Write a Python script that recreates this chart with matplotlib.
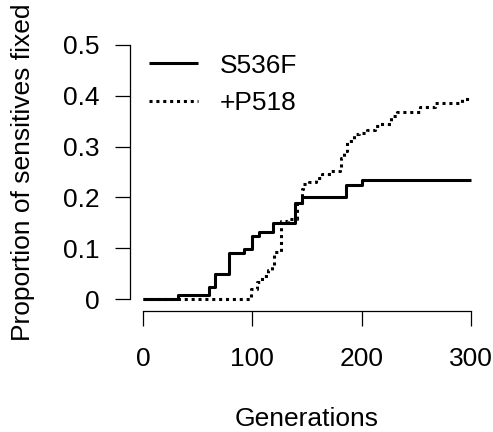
import matplotlib
matplotlib.use("Agg")
import matplotlib.pyplot as plt

# step curves: generation at which each step occurs, proportion after the step
s536f_gen = [0, 32, 60, 66, 79, 92, 100, 106, 119, 139, 145, 186, 200, 300]
s536f_prop = [0, 0.008, 0.024, 0.049, 0.090, 0.099, 0.125, 0.133, 0.149,
              0.190, 0.201, 0.225, 0.234, 0.234]

p518_gen = [0, 99, 104, 109, 114, 118, 120, 126, 126.5, 133, 141, 145, 146,
            152, 158, 164, 172, 180, 181, 184, 187, 193, 198, 205, 212, 216,
            227, 232, 253, 267, 292, 300]
p518_prop = [0, 0.020, 0.033, 0.045, 0.057, 0.066, 0.092, 0.105, 0.154, 0.158,
             0.190, 0.216, 0.226, 0.231, 0.239, 0.246, 0.252, 0.260, 0.278,
             0.291, 0.311, 0.324, 0.327, 0.333, 0.340, 0.344, 0.359, 0.368,
             0.377, 0.386, 0.394, 0.394]

x_ticks = [0, 100, 200, 300]
y_ticks = [0, 0.1, 0.2, 0.3, 0.4, 0.5]
y_tick_labels = ["0", "0.1", "0.2", "0.3", "0.4", "0.5"]

plt.rcParams["font.family"] = ["Liberation Sans", "DejaVu Sans"]
fs = 19

fig = plt.figure(figsize=(4.93, 4.32), dpi=100)
ax = fig.add_axes([0.2637, 0.2836, 0.718, 0.6366])

ax.step(s536f_gen, s536f_prop, where="post", color="black", lw=2.2,
        label="S536F", solid_capstyle="butt")
ax.step(p518_gen, p518_prop, where="post", color="black", lw=2.2,
        dashes=(1, 1.25), dash_capstyle="butt", label="+P518")

ax.set_xlim(-12, 312)
ax.set_ylim(-0.02, 0.52)

for side in ["top", "right"]:
    ax.spines[side].set_visible(False)
ax.spines["left"].set_bounds(0, 0.5)
ax.spines["bottom"].set_bounds(0, 300)
ax.spines["bottom"].set_position(("outward", 1))
for side in ["left", "bottom"]:
    ax.spines[side].set_linewidth(0.9)

ax.set_xticks(x_ticks)
ax.set_yticks(y_ticks)
ax.set_yticklabels(y_tick_labels)
ax.tick_params(axis="both", length=11, width=0.9, labelsize=fs)
ax.tick_params(axis="x", pad=15)
ax.tick_params(axis="y", pad=11)

ax.set_xlabel("Generations", fontsize=fs, labelpad=26)
ax.set_ylabel("Proportion of sensitives fixed", fontsize=fs, labelpad=20)

ax.legend(loc="upper left", bbox_to_anchor=(0.055, 0.93), frameon=False,
          handlelength=1.85, handletextpad=0.8, labelspacing=0.5,
          borderpad=0, borderaxespad=0, fontsize=fs)

fig.savefig("out.png", dpi=100)
